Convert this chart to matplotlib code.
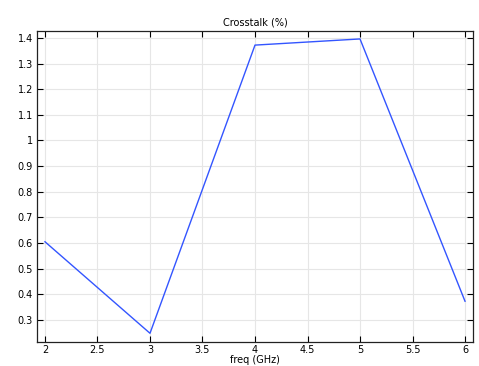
import matplotlib
matplotlib.use("Agg")
import matplotlib.pyplot as plt

freq = [2, 3, 4, 5, 6]
crosstalk = [0.605, 0.248, 1.372, 1.396, 0.373]
xticks = [2, 2.5, 3, 3.5, 4, 4.5, 5, 5.5, 6]
yticks = [0.3, 0.4, 0.5, 0.6, 0.7, 0.8, 0.9, 1.0, 1.1, 1.2, 1.3, 1.4]

fig = plt.figure(figsize=(4.79, 3.66), dpi=100)
ax = fig.add_axes([37 / 479, 1 - 342 / 366, 436 / 479, 311 / 366])

ax.plot(freq, crosstalk, color="#3355ff", linewidth=1.0)

ax.set_xlim(1.924, 6.076)
ax.set_ylim(0.214, 1.427)
ax.set_xticks(xticks)
ax.set_xticklabels([f"{v:g}" for v in xticks])
ax.set_yticks(yticks)
ax.set_yticklabels([f"{v:g}" for v in yticks])

ax.grid(True, color="#e6e6e6", linewidth=0.8)
ax.set_axisbelow(True)
ax.tick_params(direction="in", top=True, right=True, labelsize=7, length=4, width=0.8, pad=3)
ax.tick_params(axis="x", pad=2)
for s in ax.spines.values():
    s.set_linewidth(0.9)
    s.set_color("#222222")

ax.set_title("Crosstalk (%)", fontsize=7, pad=4)
fig.text(255 / 479, 1 - 360 / 366, "freq (GHz)", fontsize=7, ha="center", va="center")

fig.savefig("out.png", dpi=100)
